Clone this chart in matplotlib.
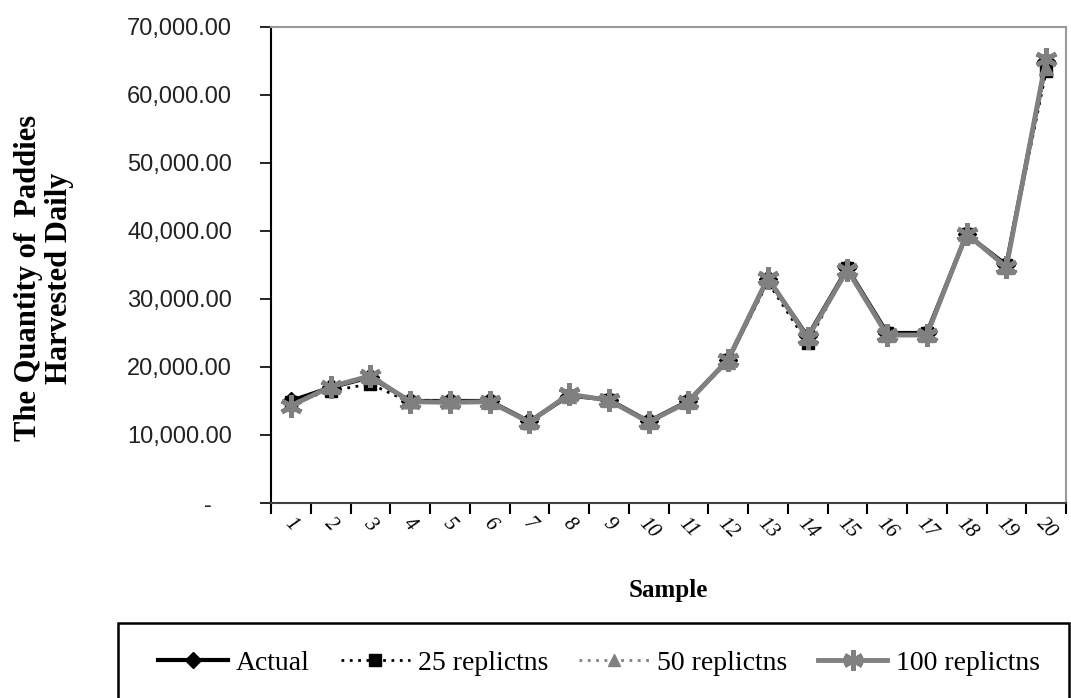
import matplotlib
matplotlib.use("Agg")
import matplotlib.pyplot as plt
from matplotlib.patches import Rectangle
import numpy as np

samples = [str(i) for i in range(1, 21)]
actual = [15000, 17000, 18500, 15000, 15000, 15000, 12000, 15800, 15200, 12000,
          15000, 21000, 33000, 24500, 34500, 25000, 25000, 39500, 35000, 65000]
rep25 = [14800, 16500, 17500, 14800, 14800, 14800, 11800, 15800, 15200, 11900,
         14800, 21000, 32500, 23500, 34500, 25000, 25000, 39500, 35000, 63500]
rep50 = [14500, 17000, 18500, 15000, 15000, 14800, 11900, 15800, 15100, 11900,
         14800, 20800, 33000, 24300, 34300, 24700, 24700, 39300, 34700, 64000]
rep100 = [14300, 17100, 18700, 14900, 14800, 14900, 11900, 16000, 15100, 11900,
          14900, 21100, 33100, 24300, 34300, 24700, 24700, 39600, 34700, 65300]
yticks = [0, 10000, 20000, 30000, 40000, 50000, 60000, 70000]

W, H = 1071, 698
fig = plt.figure(figsize=(W / 100, H / 100), dpi=100)
ax = fig.add_axes([271 / W, 1 - 503 / H, (1066 - 271) / W, (503 - 27) / H])

x = np.arange(len(samples)) + 0.5
gray = "#808080"
l1, = ax.plot(x, actual, color="black", lw=3, marker="D", ms=9, mfc="black", mec="black", label="Actual")
l2, = ax.plot(x, rep25, color="black", lw=2, ls=(0, (1, 2)), marker="s", ms=9, mfc="black", mec="black", label="25 replictns")
l3, = ax.plot(x, rep50, color=gray, lw=2, ls=(0, (1, 2)), marker="^", ms=10, mfc=gray, mec=gray, label="50 replictns")
l4, = ax.plot(x, rep100, color=gray, lw=3.5, marker=(6, 2, 0), ms=16, mew=3.5, mfc=gray, mec=gray, label="100 replictns")

ax.set_xlim(0, len(samples))
ax.set_ylim(0, 70000)
ax.set_yticks(yticks)
ax.set_yticklabels([("-   " if v == 0 else f"{v:,.2f}") for v in yticks],
                   fontfamily="Liberation Sans", fontsize=17, color="#222222")
ax.set_xticks(np.arange(0, len(samples) + 1))
ax.set_xticklabels([])
ax.set_xticks(x, minor=True)
ax.set_xticklabels(samples, minor=True, rotation=-45, ha="center", va="top",
                   fontfamily="Liberation Serif", fontstyle="italic", fontsize=15)
ax.tick_params(axis="x", which="minor", length=0, pad=8)
ax.tick_params(axis="x", which="major", length=8, width=1.5, direction="out", color="black")
ax.tick_params(axis="y", length=8, width=1.2, direction="out", pad=20)

ax.spines["left"].set_color("black")
ax.spines["left"].set_linewidth(1.5)
ax.spines["bottom"].set_color("#404040")
ax.spines["bottom"].set_linewidth(1.5)
for s in ("top", "right"):
    ax.spines[s].set_color("#999999")
    ax.spines[s].set_linewidth(1.5)

ax.set_xlabel("Sample", fontfamily="Liberation Serif", fontweight="bold", fontsize=18, labelpad=26)
fig.text(44 / W, 1 - 278 / H, "The Quantity of  Paddies\nHarvested Daily", rotation=90,
         ha="center", va="center", fontfamily="Liberation Serif", fontweight="bold",
         fontsize=22, linespacing=1.1)

fig.patches.append(Rectangle((118 / W, -0.05), (1069 - 118) / W, 1 - 623 / H + 0.05,
                             transform=fig.transFigure, fill=False, edgecolor="black",
                             lw=1.8, figure=fig))
fig.legend(handles=[l1, l2, l3, l4], loc="center", bbox_to_anchor=(599 / W, 1 - 663 / H),
           ncol=4, frameon=False, prop={"family": "Liberation Serif", "size": 20},
           handlelength=2.5, handletextpad=0.3, columnspacing=1.1, markerscale=0.9)

fig.savefig("out.png", dpi=100)
